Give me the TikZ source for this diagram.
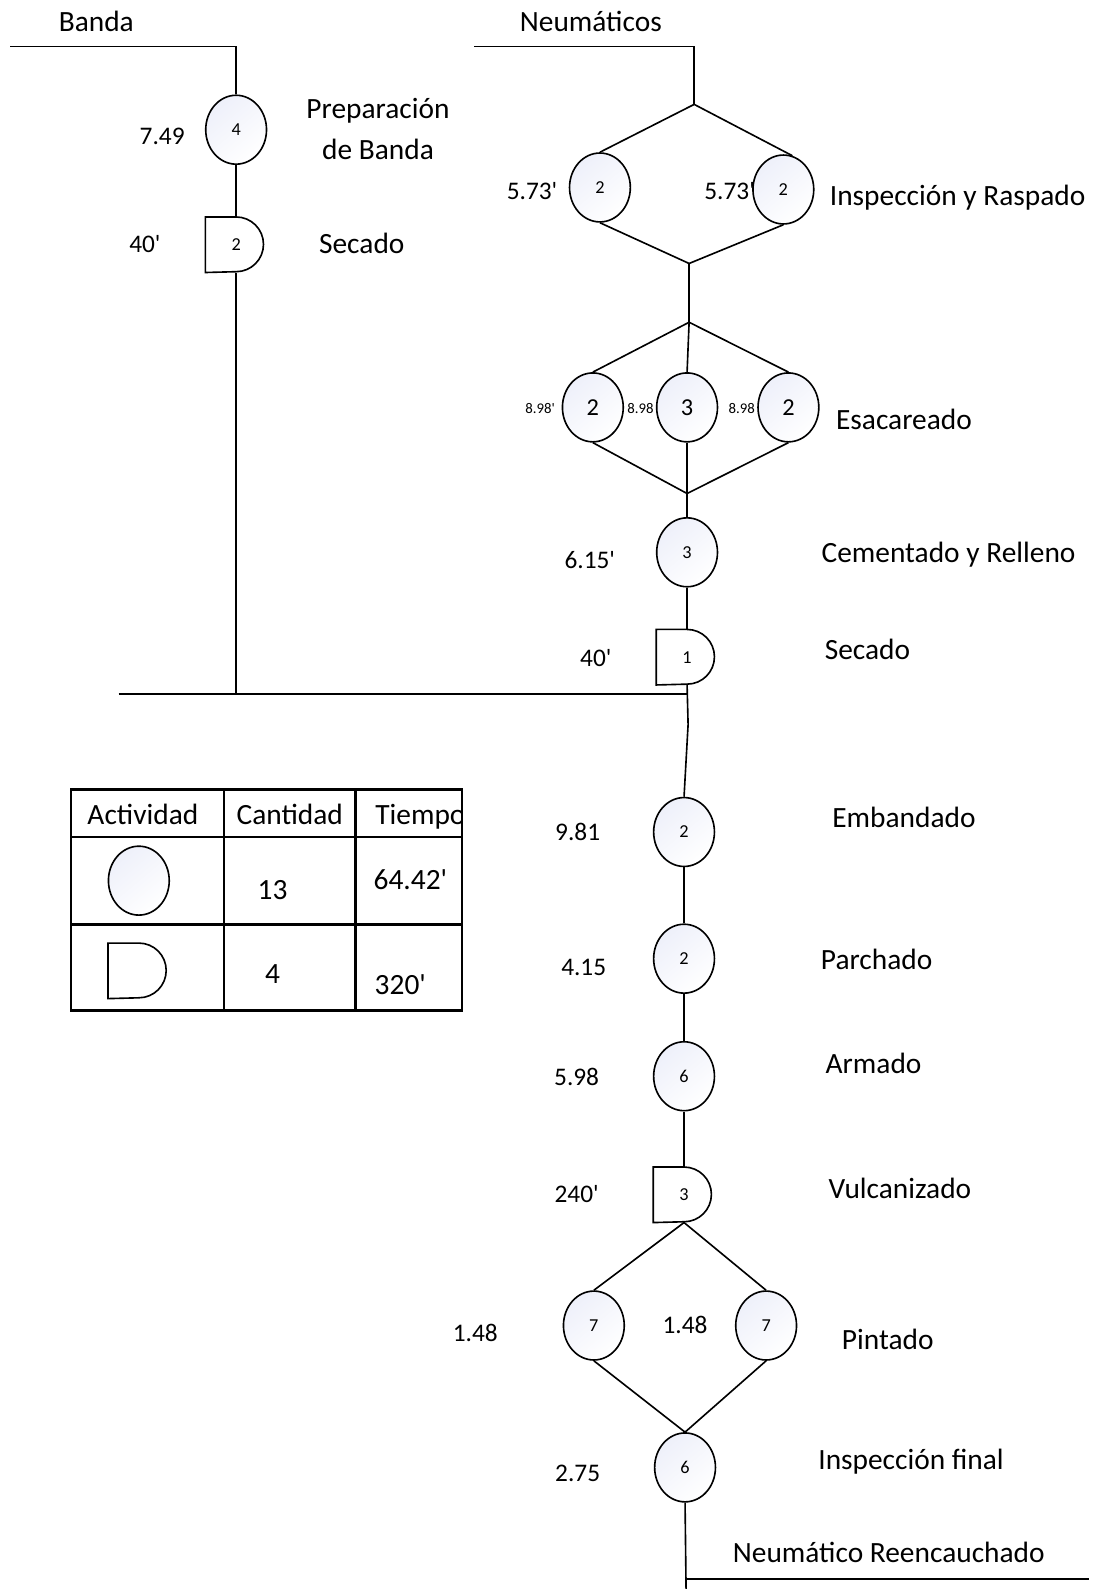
\documentclass[tikz,border=0pt]{standalone}
\usepackage{fontspec}
\defaultfontfeatures[\rmfamily]{}
\setmainfont{Carlito}
\usetikzlibrary{shapes.geometric}
\definecolor{opshade}{RGB}{238,240,250}
% storage symbol: flat left half, round right half
\newcommand\drawdelay[1]{%
  \draw[shapeline] (#1.north west) -- (#1.north)
    arc[start angle=90, end angle=-90, radius=13.5pt] -- (#1.south west) -- cycle;}
\begin{document}
\begin{tikzpicture}[x=0.5pt, y=-0.5pt,
  conn/.style={line width=0.8pt},
  shapeline/.style={line width=0.8pt},
  oper/.style={ellipse, draw, line width=0.8pt, minimum width=30pt,
    minimum height=34pt, inner sep=0pt, top color=opshade,
    bottom color=white, shading angle=40, font=\fontsize{9}{9}\selectfont},
  operbig/.style={oper, font=\fontsize{12}{12}\selectfont},
  delaybox/.style={minimum width=30pt, minimum height=27pt, inner sep=0pt,
    font=\fontsize{9}{9}\selectfont},
  lbl/.style={font=\fontsize{14.5}{17}\selectfont, text height=9.3pt,
    text depth=0pt, inner sep=0pt},
  tm/.style={font=\fontsize{12.5}{15}\selectfont, text height=8pt,
    text depth=0pt, inner sep=0pt},
  tmsmall/.style={font=\fontsize{7.3}{9}\selectfont, text height=4.7pt,
    text depth=0pt, inner sep=0pt},
  tab/.style={line width=1.3pt},
  tabtxt/.style={font=\fontsize{14.5}{17}\selectfont, text height=9.3pt,
    text depth=0pt, inner sep=0pt},
]
\useasboundingbox (0,0) rectangle (1090,1568);

% ---------- Banda branch ----------
\node[lbl] (tBanda) at (95,22) {Banda};
\coordinate (bandaL) at (10,46);
\coordinate (bandaC) at (233,46);
\node[oper] (prep) at (233,128) {4};
\node[delaybox] (sec1) at (233,241.5) {2};
\drawdelay{sec1}
\node[tm] (t749) at (160,135) {7.49};
\node[tm] (t40a) at (143,241) {40'};
\node[lbl] (lPrepA) at (373,108) {Preparación};
\node[lbl] (lPrepB) at (373,148) {de Banda};
\node[lbl] (lSec1) at (357,241) {Secado};
\draw[conn] (bandaL) -- (bandaC) -- (prep.north);
\draw[conn] (prep.south) -- (sec1.north);
\coordinate (joinB) at (233,685);
\coordinate (joinL) at (117,685);
\coordinate (joinR) at (679,685);
\draw[conn] (sec1.south) -- (joinB);
\draw[conn] (joinL) -- (joinR);

% ---------- Neumaticos branch ----------
\node[lbl] (tNeu) at (583,22) {Neumáticos};
\coordinate (neuL) at (468,46);
\coordinate (neuC) at (685,46);
\coordinate (d1top) at (685,103);
\coordinate (d1bot) at (680,260);
\draw[conn] (neuL) -- (neuC) -- (d1top);

\node[oper] (ir1) at (592,185) {2};
\node[oper] (ir2) at (773,187) {2};
\node[tm] (t573a) at (525,189) {5.73'};
\node[tm] (t573b) at (720,189) {5.73'};
\node[lbl] (lIR) at (945,193) {Inspección y Raspado};
\draw[conn] (ir1.north) -- (d1top) -- (ir2.75);
\draw[conn] (ir1.south) -- (d1bot) -- (ir2.south);

\coordinate (d2top) at (680,318);
\coordinate (d2bot) at (678,487);
\draw[conn] (d1bot) -- (d2top);
\node[operbig] (es1) at (585,402) {2};
\node[operbig] (es2) at (678,402) {3};
\node[operbig] (es3) at (778,402) {2};
\node[tmsmall] (t898a) at (533,403) {8.98'};
\node[tmsmall] (t898b) at (632,403) {8.98};
\node[tmsmall] (t898c) at (732,403) {8.98};
\node[lbl] (lEs) at (892,415) {Esacareado};
\draw[conn] (es1.north) -- (d2top) -- (es3.north);
\draw[conn] (d2top) -- (es2.north);
\draw[conn] (es1.south) -- (d2bot) -- (es3.south);
\draw[conn] (es2.south) -- (d2bot);

\node[oper] (cem) at (678,545) {3};
\node[tm] (t615) at (582,553) {6.15'};
\node[lbl] (lCem) at (936,546) {Cementado y Relleno};
\draw[conn] (d2bot) -- (cem.north);

\node[delaybox] (sec2) at (678,648.5) {1};
\drawdelay{sec2}
\node[tm] (t40b) at (588,650) {40'};
\node[lbl] (lSec2) at (856,641) {Secado};
\draw[conn] (cem.south) -- (sec2.north);

% ---------- main line after assembly ----------
\coordinate (bend) at (679,715);
\node[oper] (emb) at (675,821) {2};
\node[tm] (t981) at (570,821) {9.81};
\node[lbl] (lEmb) at (892,807) {Embandado};
\draw[conn] (sec2.south) -- (bend) -- (emb.north);

\node[oper] (par) at (675,946) {2};
\node[tm] (t415) at (576,955) {4.15};
\node[lbl] (lPar) at (865,947) {Parchado};
\draw[conn] (emb.south) -- (par.north);

\node[oper] (arm) at (675,1062) {6};
\node[tm] (t598) at (569,1063) {5.98};
\node[lbl] (lArm) at (862,1050) {Armado};
\draw[conn] (par.south) -- (arm.north);

\node[delaybox] (vul) at (675,1179) {3};
\drawdelay{vul}
\node[tm] (t240) at (569,1179) {240'};
\node[lbl] (lVul) at (888,1173) {Vulcanizado};
\draw[conn] (arm.south) -- (vul.north);

\node[oper] (pin1) at (586,1308) {7};
\node[oper] (pin2) at (756,1308) {7};
\node[tm] (t148a) at (469,1316) {1.48};
\node[tm] (t148b) at (676,1308) {1.48};
\node[lbl] (lPin) at (876,1322) {Pintado};
\draw[conn] (pin1.north) -- (vul.south) -- (pin2.north);

\node[oper] (insf) at (676,1448) {6};
\node[tm] (t275) at (570,1454) {2.75};
\node[lbl] (lInsf) at (899,1441) {Inspección final};
\draw[conn] (pin1.south) -- (insf.north) -- (pin2.south);

\coordinate (endC) at (677,1558);
\coordinate (endR) at (1075,1558);
\coordinate (endB) at (677,1568);
\node[lbl] (lEnd) at (877,1533) {Neumático Reencauchado};
\draw[conn] (insf.south) -- (endB);
\draw[conn] (endC) -- (endR);

% ---------- summary table ----------
\begin{scope}
  \clip (351,779) rectangle (455,826);
  \node[tabtxt, anchor=west] (hTie) at (370,804) {Tiempo};
\end{scope}
\draw[tab] (70,779) rectangle (456,997);
\draw[tab] (221,779) -- (221,997);
\draw[tab] (351,779) -- (351,997);
\draw[tab] (70,826) -- (456,826);
\draw[tab] (70,912) -- (456,912);
\node[tabtxt] (hAct) at (141,804) {Actividad};
\node[tabtxt] (hCan) at (286,804) {Cantidad};
\node[oper] (lgOp) at (137,869) {};
\node[tabtxt] (cOp) at (269,878) {13};
\node[tabtxt] (tOp) at (405,868) {64.42'};
\node[delaybox] (lgDl) at (137,958) {};
\drawdelay{lgDl}
\node[tabtxt] (cDl) at (269,961) {4};
\node[tabtxt] (tDl) at (395,972) {320'};
\end{tikzpicture}
\end{document}
